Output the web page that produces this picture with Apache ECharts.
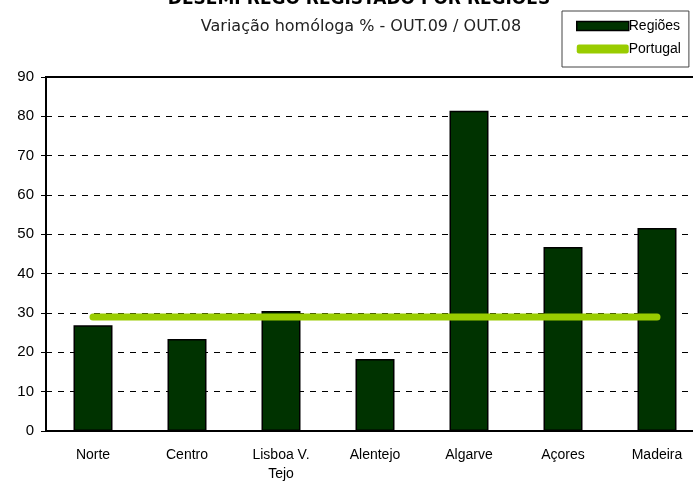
<!DOCTYPE html>
<html>
<head>
<meta charset="utf-8">
<script src="https://cdn.jsdelivr.net/npm/echarts@6/dist/echarts.min.js"></script>
<style>
  html, body { margin: 0; padding: 0; background: #fff; }
  #chart { width: 693px; height: 483px; }
</style>
</head>
<body>
<div id="chart"></div>
<script>
// regiões e variação homóloga (%)
const regioes = ['Norte', 'Centro', 'Lisboa V.\nTejo', 'Alentejo', 'Algarve', 'Açores', 'Madeira']
const variacaoRegioes = [26.9, 23.4, 30.5, 18.3, 81.4, 46.8, 51.6]
const variacaoPortugal = [29, 29, 29, 29, 29, 29, 29]

const chart = echarts.init(document.getElementById('chart'))

chart.setOption({
  animation: false,
  title: [
    {
      text: 'DESEMPREGO REGISTADO POR REGIÕES',
      left: 354,
      textAlign: 'center',
      top: -14,
      textStyle: { fontFamily: 'DejaVu Sans', fontWeight: 'bold', fontSize: 17, color: '#000' }
    },
    {
      text: 'Variação homóloga % - OUT.09 / OUT.08',
      left: 356,
      textAlign: 'center',
      top: 14,
      textStyle: { fontFamily: 'DejaVu Sans', fontWeight: 'normal', fontSize: 16, color: '#222' }
    }
  ],
  legend: {
    orient: 'vertical',
    left: 562,
    top: 11,
    padding: [8, 8, 11, 14],
    itemGap: 9,
    borderColor: '#444',
    borderWidth: 1,
    itemWidth: 52,
    itemHeight: 9,
    textStyle: { fontFamily: 'Liberation Sans', fontSize: 14, color: '#000', padding: [0, 0, 0, -5] },
    data: [
      { name: 'Regiões', icon: 'rect', itemStyle: { color: '#003300', borderColor: '#000', borderWidth: 1.5 } },
      { name: 'Portugal', icon: 'roundRect', itemStyle: { color: '#99cc00', borderWidth: 0 } }
    ]
  },
  grid: {
    left: 46,
    right: -11,
    top: 77,
    bottom: 52,
    outerBoundsMode: 'none',
    show: true,
    borderColor: '#000',
    borderWidth: 2
  },
  xAxis: {
    type: 'category',
    data: regioes,
    axisLine: { lineStyle: { color: '#000', width: 2 } },
    axisTick: { length: 5, lineStyle: { color: '#000', width: 1 } },
    axisLabel: { fontFamily: 'Liberation Sans', fontSize: 14, color: '#000', margin: 15, lineHeight: 19 }
  },
  yAxis: {
    type: 'value',
    min: 0,
    max: 90,
    interval: 10,
    axisLine: { show: true, lineStyle: { color: '#000', width: 2 } },
    axisTick: { show: true, length: 5, lineStyle: { color: '#000', width: 1 } },
    axisLabel: { fontFamily: 'Liberation Sans', fontSize: 15, color: '#000', margin: 12 },
    splitLine: { lineStyle: { color: '#000', type: [6, 6], width: 1 } }
  },
  series: [
    {
      name: 'Regiões',
      type: 'bar',
      data: variacaoRegioes,
      barWidth: 39,
      itemStyle: { color: '#003300', borderColor: '#000', borderWidth: 1.5 }
    },
    {
      name: 'Portugal',
      type: 'line',
      data: variacaoPortugal,
      symbol: 'none',
      lineStyle: { color: '#99cc00', width: 7, cap: 'round' },
      itemStyle: { color: '#99cc00' },
      z: 3
    }
  ]
})
</script>
</body>
</html>
